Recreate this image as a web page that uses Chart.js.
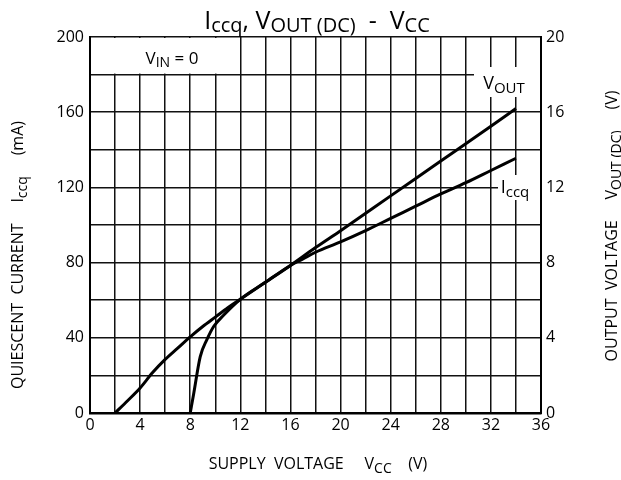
<!DOCTYPE html>
<html><head><meta charset="utf-8">
<script src="https://cdn.jsdelivr.net/npm/chart.js@4/dist/chart.umd.min.js"></script>
<style>html,body{margin:0;padding:0;background:#fff}canvas{display:block}</style>
</head><body>
<canvas id="c" width="621" height="480"></canvas>
<script>
const FONT = '"Open Sans", "DejaVu Sans", sans-serif';

// X axis: supply voltage VCC (V)
const xMin = 0, xMax = 36, xStep = 2, xLabelEvery = 4;
// Left axis: quiescent current Iccq (mA)
const yMin = 0, yMax = 200, yStep = 20, yLabelEvery = 40;
// Right axis: output voltage VOUT(DC) (V)
const y2Min = 0, y2Max = 20, y2Step = 2, y2LabelEvery = 4;

// Iccq curve (mA) vs VCC (V)
const iccqVcc = [2, 3, 4, 5, 6, 7, 8, 9, 10, 11, 12, 14, 16, 17, 18, 20, 22, 24, 26, 28, 30, 32, 34];
const iccqMa  = [0, 6.5, 13.3, 21.5, 28.5, 34.5, 40.5, 46, 51, 56, 60.5, 69.5, 78.5, 82, 85.5, 91, 97, 103.5, 110, 116.5, 122.5, 129, 135.5];

// VOUT(DC) curve (V) vs VCC (V)
const voutVcc = [8, 8.27, 8.8, 9.33, 9.87, 10.66, 12, 14, 16, 18, 20, 24, 28, 32, 34];
const voutV   = [0, 1.0, 3.0, 3.9, 4.6, 5.2, 6.05, 6.95, 7.85, 8.8, 9.7, 11.55, 13.4, 15.25, 16.2];

function pts(xs, ys){ return xs.map((x,i)=>({x:x, y:ys[i]})); }

function drawRich(ctx, segs, cx, cy, rot){
  ctx.save();
  ctx.translate(cx, cy);
  ctx.rotate(rot || 0);
  ctx.textBaseline = 'alphabetic';
  ctx.textAlign = 'left';
  ctx.fillStyle = '#000';
  let total = 0;
  segs.forEach(s=>{ ctx.font = s.s + 'px ' + FONT; s.w = ctx.measureText(s.t).width; total += s.w; });
  let x = -total/2;
  segs.forEach(s=>{ ctx.font = s.s + 'px ' + FONT; ctx.fillText(s.t, x, s.dy || 0); x += s.w; });
  ctx.restore();
}

const overlay = {
  id: 'overlay',
  beforeDatasetsDraw(chart){
    const ctx = chart.ctx, xs = chart.scales.x, ys = chart.scales.y;
    ctx.save();
    ctx.fillStyle = '#fff';
    // V_IN = 0 box: no vertical grid inside
    ctx.fillRect(xs.getPixelForValue(0)+2, ys.getPixelForValue(200)+1,
                 xs.getPixelForValue(12)-xs.getPixelForValue(0)-3, ys.getPixelForValue(180)-ys.getPixelForValue(200)-2);
    // gap behind VOUT label
    ctx.fillRect(474, 67, 540-474, 30);
    // gap behind Iccq label
    ctx.fillRect(498, 175, 540-498, 25);
    ctx.restore();
  },
  afterDraw(chart){
    const ctx = chart.ctx;
    // Title
    drawRich(ctx, [
      {t:'I', s:25}, {t:'ccq', s:20, dy:3}, {t:', V', s:25}, {t:'OUT (DC)', s:20, dy:3},
      {t:'  -  V', s:25}, {t:'CC', s:20, dy:3}
    ], 317, 29, 0);
    // In-plot labels
    drawRich(ctx, [{t:'V', s:17}, {t:'IN', s:14, dy:3}, {t:' = 0', s:17}], 172, 64, 0);
    drawRich(ctx, [{t:'V', s:18}, {t:'OUT', s:15, dy:4}], 504, 89, 0);
    drawRich(ctx, [{t:'I', s:18}, {t:'ccq', s:15, dy:4}], 515, 193, 0);
    // X title
    drawRich(ctx, [{t:'SUPPLY  VOLTAGE     V', s:16}, {t:'CC', s:14, dy:4}, {t:'    (V)', s:16}], 318, 469, 0);
    // Left title
    drawRich(ctx, [{t:'QUIESCENT  CURRENT     I', s:16}, {t:'ccq', s:14, dy:4}, {t:'     (mA)', s:16}], 23, 255, -Math.PI/2);
    // Right title
    drawRich(ctx, [{t:'OUTPUT  VOLTAGE     V', s:16}, {t:'OUT (DC)', s:14, dy:4}, {t:'     (V)', s:16}], 617, 226, -Math.PI/2);
  }
};

const tickFont = {family: FONT, size: 16};

new Chart(document.getElementById('c'), {
  type: 'line',
  data: {
    datasets: [
      {label:'Iccq', data: pts(iccqVcc, iccqMa), yAxisID:'y', borderColor:'#000', borderWidth:3,
       pointRadius:0, cubicInterpolationMode:'monotone', fill:false},
      {label:'VOUT', data: pts(voutVcc, voutV), yAxisID:'y2', borderColor:'#000', borderWidth:3,
       pointRadius:0, cubicInterpolationMode:'monotone', fill:false}
    ]
  },
  options: {
    responsive:false, animation:false, devicePixelRatio:1,
    layout:{padding:{top:37, left:0, right:0, bottom:0}},
    plugins:{legend:{display:false}, tooltip:{enabled:false}, title:{display:false}},
    scales:{
      x:{type:'linear', min:xMin, max:xMax,
         ticks:{stepSize:xStep, color:'#000', font:tickFont, padding:3, maxRotation:0, autoSkip:false,
                callback:(v)=> (v % xLabelEvery === 0 ? String(v) : '')},
         grid:{color:'#111', lineWidth:1.5, drawTicks:false},
         border:{display:true, color:'#000', width:2.5},
         afterFit:(s)=>{ s.height = 67; }},
      y:{type:'linear', position:'left', min:yMin, max:yMax,
         ticks:{stepSize:yStep, color:'#000', font:tickFont, padding:6, autoSkip:false,
                callback:(v)=> (v % yLabelEvery === 0 ? String(v) : '')},
         grid:{color:'#111', lineWidth:1.5, drawTicks:false},
         border:{display:true, color:'#000', width:2},
         afterFit:(s)=>{ s.width = 90; }},
      y2:{type:'linear', position:'right', min:y2Min, max:y2Max,
         ticks:{stepSize:y2Step, color:'#000', font:tickFont, padding:5, autoSkip:false,
                callback:(v)=> (v % y2LabelEvery === 0 ? String(v) : '')},
         grid:{display:false, drawTicks:false},
         border:{display:true, color:'#000', width:2},
         afterFit:(s)=>{ s.width = 80; }}
    }
  },
  plugins:[overlay]
});
</script>
</body></html>
